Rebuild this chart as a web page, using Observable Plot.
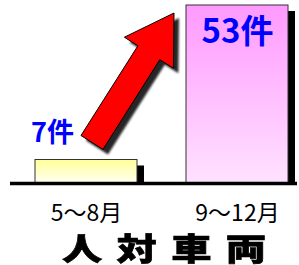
<!DOCTYPE html>
<html>
<head>
<meta charset="utf-8">
<script src="https://cdn.jsdelivr.net/npm/d3@7"></script>
<script src="https://cdn.jsdelivr.net/npm/@observablehq/plot@0.6"></script>
<style>
  body { margin: 0; background: #fff; width: 299px; height: 265px; overflow: hidden; }
  #chart { position: relative; width: 299px; height: 265px; }
  #title { position: absolute; left: 62px; top: 232px; font-family: 'Noto Sans CJK JP', sans-serif;
           font-size: 31px; line-height: 29px; font-weight: 900; letter-spacing: 11px;
           transform: scaleX(1.3); transform-origin: left top; white-space: nowrap; color: #000;
           -webkit-text-stroke: 0.6px #000; }
</style>
</head>
<body>
<div id="chart"></div>
<script>
const categories = ["5～8月", "9～12月"];
const values = [7, 53];
const unit = "件";
const title = "人対車両";

const data = categories.map((c, i) => ({category: c, value: values[i]}));
const font = "'Noto Sans CJK JP', sans-serif";

function fatArrow(index, scales, vals, dims) {
  const ns = "http://www.w3.org/2000/svg";
  const g = document.createElementNS(ns, "g");
  const bw = scales.x.bandwidth ? scales.x.bandwidth() : 0;
  const tail = [scales.x(categories[0]) + bw / 2 + 6, scales.y(values[0]) - 17];
  const tip = [scales.x(categories[1]) - 12, scales.y(values[1]) + 8];
  const dx = tip[0] - tail[0], dy = tip[1] - tail[1];
  const L = Math.hypot(dx, dy);
  const u = [dx / L, dy / L], n = [-u[1], u[0]];
  const shaft = 13, head = 29, headLen = 47;
  const b = [tip[0] - u[0] * headLen, tip[1] - u[1] * headLen];
  const p = (o, k) => [o[0] + n[0] * k, o[1] + n[1] * k];
  const pts = [p(tail, shaft), p(b, shaft), p(b, head), tip, p(b, -head), p(b, -shaft), p(tail, -shaft)];
  const d = "M" + pts.map(q => q.map(v => v.toFixed(1)).join(",")).join("L") + "Z";
  const sh = document.createElementNS(ns, "path");
  sh.setAttribute("d", d);
  sh.setAttribute("fill", "#000");
  sh.setAttribute("opacity", "0.85");
  sh.setAttribute("transform", "translate(5,5)");
  sh.setAttribute("filter", "url(#blur)");
  const ar = document.createElementNS(ns, "path");
  ar.setAttribute("d", d);
  ar.setAttribute("fill", "#ff0000");
  ar.setAttribute("stroke", "#000");
  ar.setAttribute("stroke-width", "1");
  g.appendChild(sh);
  g.appendChild(ar);
  return g;
}

const plot = Plot.plot({
  width: 299,
  height: 228,
  marginTop: 5,
  marginBottom: 45,
  marginLeft: 10,
  marginRight: 2,
  style: {fontFamily: font, background: "transparent", overflow: "visible"},
  x: {domain: categories, range: [35, 288], paddingInner: 0.325, paddingOuter: 0, label: null},
  y: {domain: [0, 53], axis: null},
  marks: [
    Plot.barY(data, {x: "category", y: "value", fill: "#000", dx: 7, insetTop: 6}),
    Plot.barY(data.filter(d => d.category === categories[0]), {x: "category", y: "value", fill: "url(#g1)", stroke: "#333", strokeWidth: 1}),
    Plot.barY(data.filter(d => d.category === categories[1]), {x: "category", y: "value", fill: "url(#g2)", stroke: "#333", strokeWidth: 1}),
    Plot.ruleY([0], {stroke: "#000", strokeWidth: 3.5}),
    Plot.link([{}], {x1: () => categories[0], x2: () => categories[1], y1: () => values[0], y2: () => values[1], render: fatArrow}),
    Plot.text(data.filter(d => d.category === categories[0]), {x: "category", y: "value", text: d => d.value + unit, fill: "#0000ff", fontSize: 27, fontWeight: "bold", dx: -34, dy: -27}),
    Plot.text(data.filter(d => d.category === categories[1]), {x: "category", y: "value", text: d => d.value + unit, fill: "#0000ff", fontSize: 33, fontWeight: "bold", dy: 27}),
    Plot.axisX({tickSize: 0, tickPadding: 21, fontSize: 23, fill: "#000", label: null})
  ]
});

const ns = "http://www.w3.org/2000/svg";
const defs = document.createElementNS(ns, "defs");
defs.innerHTML = `
  <linearGradient id="g1" x1="0" y1="0" x2="0" y2="1">
    <stop offset="0" stop-color="#ffff99"/><stop offset="1" stop-color="#fffff2"/>
  </linearGradient>
  <linearGradient id="g2" x1="0" y1="0" x2="0" y2="1">
    <stop offset="0" stop-color="#ff99ff"/><stop offset="1" stop-color="#ffe2ff"/>
  </linearGradient>
  <filter id="blur" x="-20%" y="-20%" width="140%" height="140%"><feGaussianBlur stdDeviation="1.2"/></filter>`;
plot.insertBefore(defs, plot.firstChild);

const chart = document.getElementById("chart");
chart.appendChild(plot);
const t = document.createElement("div");
t.id = "title";
t.textContent = title;
chart.appendChild(t);
</script>
</body>
</html>
